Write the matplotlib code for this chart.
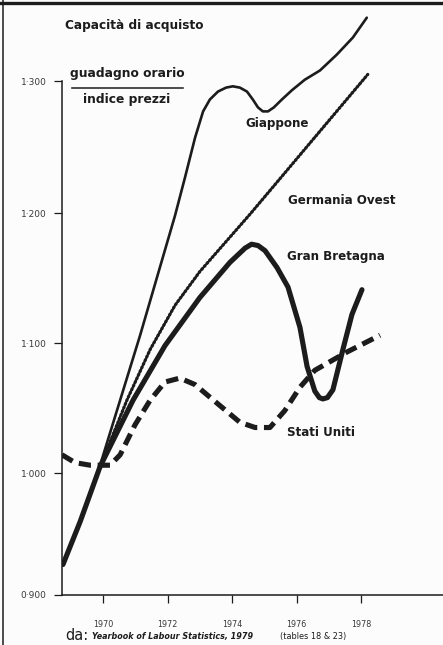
import numpy as np
import matplotlib
matplotlib.use("Agg")
import matplotlib.pyplot as plt
from matplotlib.lines import Line2D

# ---------------- data ----------------
jp_year = [1968.76, 1969.29, 1969.91, 1970.53, 1971.15, 1971.76, 1972.23, 1972.54,
           1972.85, 1973.10, 1973.31, 1973.56, 1973.81, 1974.02, 1974.24, 1974.46,
           1974.64, 1974.80, 1974.95, 1975.11, 1975.29, 1975.54, 1975.85, 1976.25,
           1976.72, 1977.24, 1977.74, 1978.17]
jp_val = [0.926, 0.961, 1.006, 1.056, 1.106, 1.158, 1.198, 1.227,
          1.257, 1.277, 1.286, 1.292, 1.295, 1.296, 1.295, 1.292,
          1.286, 1.280, 1.277, 1.277, 1.280, 1.286, 1.293, 1.301,
          1.308, 1.320, 1.333, 1.348]

de_year = [1968.76, 1969.29, 1969.91, 1970.74, 1971.46, 1972.23, 1973.00, 1974.55,
           1976.10, 1978.20]
de_val = [0.925, 0.960, 1.005, 1.056, 1.095, 1.129, 1.155, 1.199, 1.244, 1.305]

gb_year = [1968.76, 1969.29, 1969.91, 1970.93, 1971.92, 1973.00, 1973.93, 1974.40,
           1974.60, 1974.80, 1975.02, 1975.39, 1975.73, 1976.10, 1976.32, 1976.56,
           1976.70, 1976.81, 1976.95, 1977.12, 1977.43, 1977.71, 1978.02]
gb_val = [0.925, 0.960, 1.005, 1.056, 1.098, 1.135, 1.162, 1.173,
          1.176, 1.175, 1.171, 1.158, 1.143, 1.112, 1.082, 1.063,
          1.058, 1.057, 1.058, 1.064, 1.095, 1.122, 1.141]

us_year = [1968.73, 1969.13, 1969.60, 1970.22, 1970.53, 1970.99, 1971.46, 1971.92,
           1972.38, 1972.85, 1973.47, 1974.24, 1974.71, 1975.17, 1975.63, 1976.10,
           1976.56, 1977.55, 1978.58]
us_val = [1.014, 1.008, 1.006, 1.006, 1.014, 1.037, 1.056, 1.070,
          1.073, 1.068, 1.055, 1.039, 1.035, 1.035, 1.048, 1.066,
          1.079, 1.093, 1.106]

y_ticks = [0.9, 1.0, 1.1, 1.2, 1.3]
y_ticklabels = ["0\u00b7900", "1\u00b7000", "1\u00b7100", "1\u00b7200", "1\u00b7300"]
x_ticks = [1970, 1972, 1974, 1976, 1978]
x_ticklabels = ["1970", "1972", "1974", "1976", "1978"]

# ------------- hand-drawn (non uniform) vertical scale -------------
SK = [0.9, 1.0, 1.1, 1.2, 1.3]
SP = [0.0, 122.0, 252.0, 382.0, 514.0]


def fwd(v):
    v = np.asarray(v, dtype=float)
    out = np.interp(v, SK, SP)
    out = np.where(v > SK[-1], SP[-1] + (v - SK[-1]) * 1320.0, out)
    out = np.where(v < SK[0], SP[0] + (v - SK[0]) * 1220.0, out)
    return out


def inv(p):
    p = np.asarray(p, dtype=float)
    out = np.interp(p, SP, SK)
    out = np.where(p > SP[-1], SK[-1] + (p - SP[-1]) / 1320.0, out)
    out = np.where(p < SP[0], SK[0] + (p - SP[0]) / 1220.0, out)
    return out


W, H = 443, 645
INK = "#1c1c1c"
plt.rcParams["font.family"] = ["DejaVu Sans"]

fig = plt.figure(figsize=(W / 100, H / 100), dpi=100, facecolor="#fcfcfc")
ax = fig.add_axes([62 / W, 50 / H, (W - 62) / W, 590 / H])
ax.set_facecolor("none")
ax.set_yscale("function", functions=(fwd, inv))
ax.set_xlim(1968.73, 1980.53)
ax.set_ylim(0.9, 1.3576)

# curves
ax.plot(jp_year, jp_val, color=INK, lw=1.9, solid_joinstyle="round",
        solid_capstyle="round")
ax.plot(de_year, de_val, color=INK, lw=0.8, solid_joinstyle="round")
ax.plot(de_year, de_val, color=INK, lw=2.3, ls=(0, (0.45, 0.8)),
        dash_capstyle="round")
ax.plot(gb_year, gb_val, color=INK, lw=3.7, solid_joinstyle="round",
        solid_capstyle="round")
ax.plot(us_year, us_val, color=INK, lw=3.7, ls=(0, (2.4, 1.3)),
        dash_capstyle="butt", dash_joinstyle="round")

# axes styling
for s in ("top", "right"):
    ax.spines[s].set_visible(False)
ax.spines["left"].set_bounds(0.9, 1.3)
ax.spines["left"].set_linewidth(1.1)
ax.spines["bottom"].set_linewidth(1.1)
ax.spines["left"].set_color(INK)
ax.spines["bottom"].set_color(INK)

ax.set_yticks(y_ticks)
ax.set_yticklabels(y_ticklabels)
ax.set_xticks(x_ticks)
ax.set_xticklabels(x_ticklabels)
ax.tick_params(axis="y", direction="out", length=6, width=0.9, pad=5,
               labelsize=6.5, colors=INK, labelcolor="#3a3a3a")
ax.tick_params(axis="x", direction="out", length=6, width=0.9, pad=12,
               labelsize=5.8, colors=INK, labelcolor="#3a3a3a")
ax.minorticks_off()


def ftext(x, y, s, **kw):
    fig.text(x / W, 1 - y / H, s, **kw)


# titles
ftext(65, 25, "Capacit\u00e0 di acquisto", fontsize=8.7, fontweight="bold",
      color=INK, va="center", ha="left")
ftext(127, 73, "guadagno orario", fontsize=8.8, fontweight="bold",
      color=INK, va="center", ha="center")
ftext(127, 100, "indice prezzi", fontsize=8.8, fontweight="bold",
      color=INK, va="center", ha="center")
fig.add_artist(Line2D([72 / W, 183 / W], [1 - 88 / H, 1 - 88 / H],
                      transform=fig.transFigure, color=INK, lw=1.1))

# series labels
lab = dict(fontsize=8.6, fontweight="bold", color=INK, va="center", ha="left")
ftext(245, 123, "Giappone", **lab)
ftext(288, 200, "Germania Ovest", **lab)
ftext(287, 257, "Gran Bretagna", **lab)
ftext(287, 432, "Stati Uniti", **lab)

# source line
ftext(65, 636, "da:", fontsize=10.5, color=INK, va="center", ha="left")
ftext(92, 637, "Yearbook of Labour Statistics, 1979", fontsize=5.8,
      fontweight="bold", fontstyle="italic", color=INK, va="center", ha="left")
ftext(280, 637, "(tables 18 & 23)", fontsize=5.9, color=INK, va="center",
      ha="left")

# page frame
fig.add_artist(Line2D([0, 1], [1 - 3 / H, 1 - 3 / H], transform=fig.transFigure,
                      color=INK, lw=2.4))
fig.add_artist(Line2D([3 / W, 3 / W], [0, 1], transform=fig.transFigure,
                      color=INK, lw=1.1))

fig.savefig("out.png", dpi=100, facecolor=fig.get_facecolor())
